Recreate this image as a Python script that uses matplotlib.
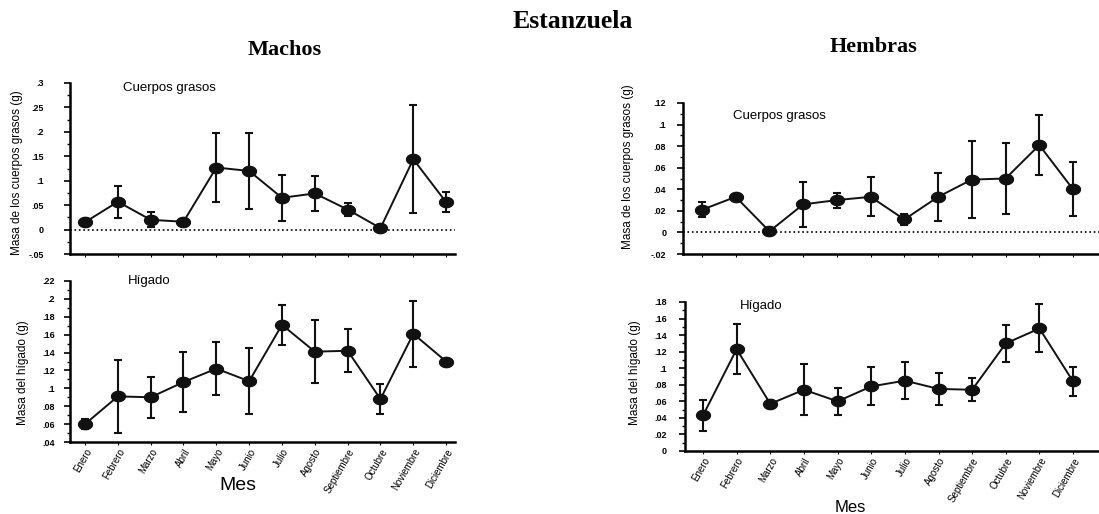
import numpy as np
import matplotlib
matplotlib.use("Agg")
import matplotlib.pyplot as plt
from matplotlib.path import Path
from matplotlib.ticker import FuncFormatter, MultipleLocator

meses = ["Enero", "Febrero", "Marzo", "Abril", "Mayo", "Junio", "Julio",
         "Agosto", "Septiembre", "Octubre", "Noviembre", "Diciembre"]

# Machos - cuerpos grasos
m_grasa = [0.015, 0.057, 0.020, 0.016, 0.127, 0.120, 0.065, 0.074, 0.041, 0.003, 0.144, 0.056]
m_grasa_err = [0.006, 0.033, 0.015, 0.003, 0.070, 0.078, 0.047, 0.035, 0.014, 0.002, 0.110, 0.021]
# Machos - higado
m_hig = [0.060, 0.091, 0.090, 0.107, 0.122, 0.108, 0.171, 0.141, 0.142, 0.088, 0.161, 0.130]
m_hig_err = [0.006, 0.041, 0.023, 0.034, 0.030, 0.037, 0.022, 0.035, 0.024, 0.017, 0.037, 0.002]
# Hembras - cuerpos grasos
h_grasa = [0.021, 0.033, 0.001, 0.026, 0.030, 0.033, 0.012, 0.033, 0.049, 0.050, 0.081, 0.040]
h_grasa_err = [0.007, 0.001, 0.001, 0.021, 0.007, 0.018, 0.005, 0.022, 0.036, 0.033, 0.028, 0.025]
# Hembras - higado
h_hig = [0.043, 0.123, 0.057, 0.074, 0.060, 0.078, 0.085, 0.075, 0.074, 0.130, 0.148, 0.084]
h_hig_err = [0.019, 0.030, 0.005, 0.031, 0.016, 0.023, 0.022, 0.019, 0.014, 0.022, 0.029, 0.017]

plt.rcParams['font.family'] = ['Liberation Sans', 'DejaVu Sans']

W, H = 1099, 514
fig = plt.figure(figsize=(W / 100, H / 100), dpi=100)

t = np.linspace(0, 2 * np.pi, 40)
elipse = Path(np.column_stack([1.35 * np.cos(t), np.sin(t)]))


def fmt(v, pos):
    if abs(v) < 1e-9:
        return "0"
    s = ("%.3f" % v).rstrip("0")
    return s.replace("0.", ".")


def panel(rect, y, err, ylim, major, xlim, rotulo, rot_xy, show_x, ypad):
    ax = fig.add_axes(rect)
    x = np.arange(len(meses))
    ax.errorbar(x, y, yerr=err, color="#111111", lw=1.4, elinewidth=1.5,
                capsize=3, capthick=1.5, marker=elipse, markersize=10,
                mfc="#111111", mec="#111111", zorder=3)
    ax.set_xlim(*xlim)
    ax.set_ylim(*ylim)
    ax.yaxis.set_major_locator(MultipleLocator(major))
    ax.yaxis.set_minor_locator(MultipleLocator(major / 2))
    ax.yaxis.set_major_formatter(FuncFormatter(fmt))
    ax.set_xticks(x)
    if show_x:
        ax.set_xticklabels(meses, rotation=60, ha="right", rotation_mode="anchor",
                           fontsize=7)
    else:
        ax.set_xticklabels([])
    for lab in ax.get_yticklabels():
        lab.set_fontweight("bold")
    for s in ["top", "right"]:
        ax.spines[s].set_visible(False)
    for s in ["left", "bottom"]:
        ax.spines[s].set_linewidth(1.8)
    ax.tick_params(axis="y", which="major", length=4, width=1.2, labelsize=6.5, pad=ypad)
    ax.tick_params(axis="y", which="minor", length=2.5, width=1.0)
    ax.tick_params(axis="x", length=2.5, width=0.8, pad=1)
    ax.text(rot_xy[0], rot_xy[1], rotulo, transform=fig.transFigure, fontsize=9.5,
            ha="left", va="center")
    return ax


a1 = panel([70 / W, 1 - 254 / H, 385 / W, 171 / H], m_grasa, m_grasa_err,
           (-0.05, 0.3), 0.05, (-0.457, 11.27), "Cuerpos grasos",
           (123 / W, 1 - 88 / H), False, 15)
a1.axhline(0, color="black", ls=":", lw=1.2, zorder=1)

a2 = panel([70 / W, 1 - 442 / H, 385 / W, 161 / H], m_hig, m_hig_err,
           (0.04, 0.22), 0.02, (-0.457, 11.27), "Hígado",
           (128 / W, 1 - 281 / H), True, 7)

a3 = panel([683 / W, 1 - 254 / H, 416 / W, 151 / H], h_grasa, h_grasa_err,
           (-0.02, 0.12), 0.02, (-0.563, 11.77), "Cuerpos grasos",
           (733 / W, 1 - 116 / H), False, 8)
a3.axhline(0, color="black", ls=":", lw=1.2, zorder=1)

a4 = panel([685 / W, 1 - 451 / H, 414 / W, 149 / H], h_hig, h_hig_err,
           (0, 0.18), 0.02, (-0.535, 11.77), "Hígado",
           (740 / W, 1 - 306 / H), True, 9)

# y labels
fig.text(17 / W, 1 - 173 / H, "Masa de los cuerpos grasos (g)", rotation=90,
         fontsize=8.5, ha="center", va="center")
fig.text(23 / W, 1 - 373 / H, "Masa del hígado (g)", rotation=90,
         fontsize=8.5, ha="center", va="center")
fig.text(628 / W, 1 - 167 / H, "Masa de los cuerpos grasos (g)", rotation=90,
         fontsize=8.5, ha="center", va="center")
fig.text(635 / W, 1 - 373 / H, "Masa del hígado (g)", rotation=90,
         fontsize=8.5, ha="center", va="center")

# x labels
fig.text(238 / W, 1 - 485 / H, "Mes", fontsize=14, ha="center", va="center")
fig.text(850 / W, 1 - 508 / H, "Mes", fontsize=12, ha="center", va="center")

# titulos
fig.text(573 / W, 1 - 22 / H, "Estanzuela", family="Liberation Serif",
         fontweight="bold", fontsize=18.5, ha="center", va="center")
fig.text(285 / W, 1 - 50 / H, "Machos", family="Liberation Serif",
         fontweight="bold", fontsize=16, ha="center", va="center")
fig.text(873 / W, 1 - 47 / H, "Hembras", family="Liberation Serif",
         fontweight="bold", fontsize=16, ha="center", va="center")

fig.savefig("out.png", dpi=100)
